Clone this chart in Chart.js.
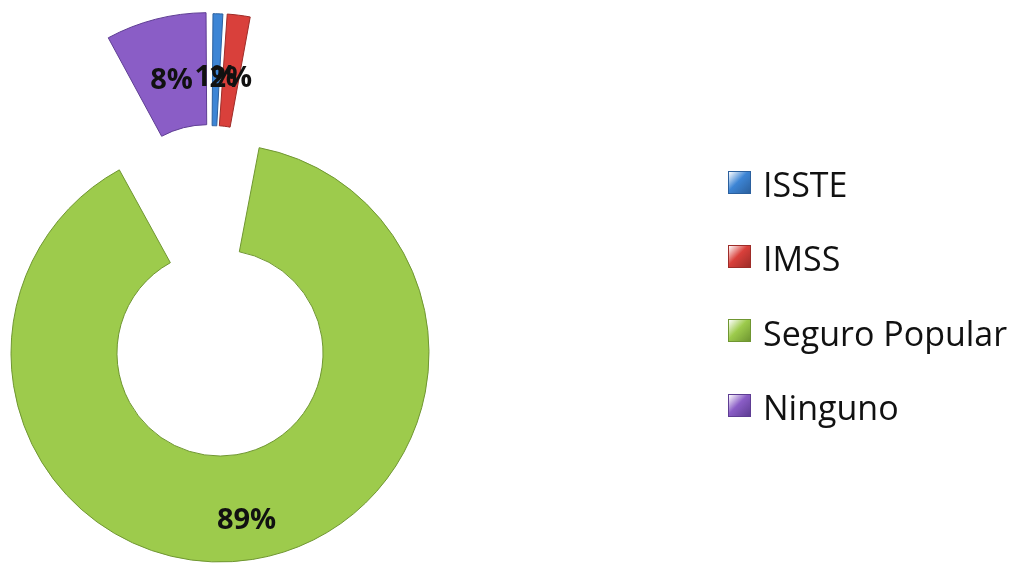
<!DOCTYPE html>
<html>
<head>
<meta charset="utf-8">
<script src="https://cdn.jsdelivr.net/npm/chart.js@4.4.0/dist/chart.umd.min.js"></script>
<style>
  html, body { margin: 0; padding: 0; background: #fff; }
  #wrap { position: relative; width: 1032px; height: 571px; overflow: hidden; }
  #wrap canvas { position: absolute; left: 0; top: 0; }
  #legend { position: absolute; left: 728px; top: 147px; font-family: "Open Sans", sans-serif; font-size: 34px; color: #111; }
  #legend .item { height: 74.3px; display: flex; align-items: center; }
  #legend .box { width: 23px; height: 23px; margin-right: 12px; margin-top: -4px; box-sizing: border-box; }
</style>
</head>
<body>
<div id="wrap">
  <canvas id="ring" width="1032" height="571"></canvas>
  <canvas id="slices" width="1032" height="571"></canvas>
  <div id="legend"></div>
</div>
<script>
// data (percent of people)
var categories = ['ISSTE', 'IMSS', 'Seguro Popular', 'Ninguno'];
var shares = [1, 2, 89, 8];
var fills = ['#3d85d5', '#d9403b', '#9dcb4c', '#8a5dc6'];
var edges = ['#2b609e', '#9e2c28', '#6f9631', '#5e3d93'];

var total = shares.reduce(function (a, b) { return a + b; }, 0);
var pctLabels = shares.map(function (v) { return Math.round(v / total * 100) + '%'; });

// labels in the middle of each visible slice
var sliceLabels = {
  id: 'sliceLabels',
  afterDatasetsDraw: function (chart, args, opts) {
    var ctx = chart.ctx;
    var meta = chart.getDatasetMeta(0);
    ctx.save();
    ctx.font = 'bold 29px "Open Sans"';
    ctx.fillStyle = '#111';
    ctx.textAlign = 'center';
    ctx.textBaseline = 'middle';
    meta.data.forEach(function (arc, i) {
      if (opts.show.indexOf(i) < 0) return;
      var p = arc.getProps(['x', 'y', 'startAngle', 'endAngle', 'innerRadius', 'outerRadius', 'circumference'], true);
      var off = (arc.options.offset || 0) / 4;
      var fix = 1 - Math.sin(Math.min(Math.PI, p.circumference));
      var mid = (p.startAngle + p.endAngle) / 2;
      var r = (p.innerRadius + p.outerRadius) / 2 + off * fix + off + opts.shift;
      ctx.fillText(pctLabels[i], p.x + Math.cos(mid) * r, p.y + Math.sin(mid) * r);
    });
    ctx.restore();
  }
};

function makeChart(id, show, offsets, radius, cutout, padding, shift) {
  var hide = 'rgba(0,0,0,0)';
  return new Chart(document.getElementById(id).getContext('2d'), {
    type: 'doughnut',
    data: {
      labels: categories,
      datasets: [{
        data: shares,
        backgroundColor: fills.map(function (c, i) { return show.indexOf(i) >= 0 ? c : hide; }),
        borderColor: edges.map(function (c, i) { return show.indexOf(i) >= 0 ? c : hide; }),
        borderWidth: 1,
        offset: offsets,
        clip: false
      }]
    },
    options: {
      responsive: false,
      animation: false,
      events: [],
      radius: radius,
      cutout: cutout,
      layout: { padding: padding },
      plugins: {
        legend: { display: false },
        tooltip: { enabled: false },
        sliceLabels: { show: show, shift: shift }
      }
    },
    plugins: [sliceLabels]
  });
}

// big green ring
makeChart('ring', [2], [0, 0, 0, 0], 209, '49.3%', { left: 0, right: 592, top: 135, bottom: 0 }, 14);
// exploded small slices at the top
makeChart('slices', [0, 1, 3], [44, 46, 0, 60], 200, '44%', { left: 0, right: 610, top: 0, bottom: 101 }, -8);

// legend
var legend = document.getElementById('legend');
categories.forEach(function (name, i) {
  var row = document.createElement('div');
  row.className = 'item';
  var box = document.createElement('span');
  box.className = 'box';
  box.style.background = 'linear-gradient(135deg, #fff 0%, ' + fills[i] + ' 45%, ' + edges[i] + ' 100%)';
  box.style.border = '1px solid ' + edges[i];
  var txt = document.createElement('span');
  txt.textContent = name;
  row.appendChild(box);
  row.appendChild(txt);
  legend.appendChild(row);
});
</script>
</body>
</html>
